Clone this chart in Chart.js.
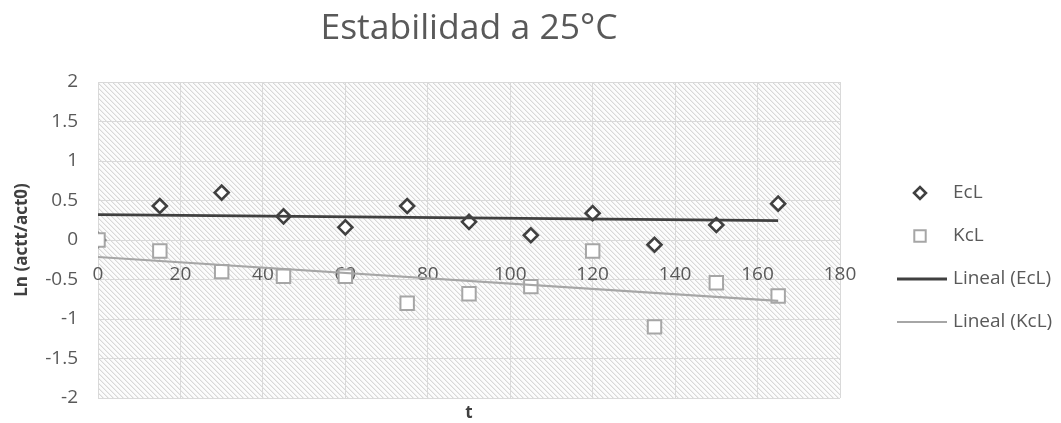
<!DOCTYPE html>
<html lang="es">
<head>
  <meta charset="UTF-8">
  <title>Estabilidad a 25°C</title>
  <style>
    body { margin: 0; background: #ffffff; }
    #wrap { position: relative; width: 1061px; height: 423px; }
  </style>
  <script src="https://cdn.jsdelivr.net/npm/chart.js@4"></script>
</head>
<body>
<div id="wrap"><canvas id="grafico"></canvas></div>

<script>
// datos
const tiempos = [0, 15, 30, 45, 60, 75, 90, 105, 120, 135, 150, 165];
const ecl = [0, 0.43, 0.60, 0.30, 0.16, 0.43, 0.23, 0.06, 0.34, -0.06, 0.19, 0.46];
const kcl = [0, -0.14, -0.40, -0.46, -0.46, -0.80, -0.68, -0.59, -0.14, -1.10, -0.54, -0.71];
// extremos de las líneas de tendencia
const tendT = [0, 165];
const tendEcl = [0.32, 0.245];
const tendKcl = [-0.215, -0.77];
// ejes
const ejeX = { min: 0, max: 180, paso: 20 };
const ejeY = { min: -2, max: 2, paso: 0.5 };

const gris = '#595959';
const fuente = "'Open Sans', sans-serif";

function puntos(xs, ys) {
  return xs.map((x, i) => ({ x: x, y: ys[i] }));
}

// fondo rayado del área de trazado
function patronRayado(ctx) {
  const c = document.createElement('canvas');
  c.width = 5; c.height = 5;
  const p = c.getContext('2d');
  p.fillStyle = '#fcfcfc';
  p.fillRect(0, 0, 5, 5);
  for (let i = 0; i < 5; i++) {
    p.fillStyle = '#d8d8d8';
    p.fillRect(i, i, 1, 1);
    p.fillStyle = '#eeeeee';
    p.fillRect((i + 1) % 5, i, 1, 1);
  }
  return ctx.createPattern(c, 'repeat');
}

const fondoPlugin = {
  id: 'fondo',
  beforeDraw(chart) {
    const a = chart.chartArea, ctx = chart.ctx;
    ctx.save();
    ctx.fillStyle = patronRayado(ctx);
    ctx.fillRect(a.left, a.top, a.right - a.left, a.bottom - a.top);
    ctx.restore();
  }
};

// leyenda a la derecha
const leyendaPlugin = {
  id: 'leyenda',
  afterDraw(chart) {
    const ctx = chart.ctx, a = chart.chartArea;
    const ds = chart.data.datasets;
    const x0 = a.right + 80, xt = a.right + 113;
    let y = 193;
    ctx.save();
    ctx.font = '19px ' + fuente;
    ctx.textBaseline = 'middle';
    ctx.textAlign = 'left';
    ds.forEach(d => {
      if (d.showLine) {
        ctx.strokeStyle = d.borderColor;
        ctx.lineWidth = d.borderWidth;
        ctx.beginPath();
        ctx.moveTo(a.right + 57, y);
        ctx.lineTo(a.right + 107, y);
        ctx.stroke();
      } else {
        ctx.fillStyle = d.pointBackgroundColor;
        ctx.strokeStyle = d.pointBorderColor;
        ctx.lineWidth = d.pointBorderWidth;
        Chart.helpers.drawPoint(ctx, {
          pointStyle: d.pointStyle, radius: d.pointRadius * 0.85,
          borderWidth: d.pointBorderWidth, rotation: 0
        }, x0, y);
      }
      ctx.fillStyle = gris;
      ctx.fillText(d.label, xt, y);
      y += 43;
    });
    ctx.restore();
  }
};

new Chart(document.getElementById('grafico'), {
  type: 'scatter',
  data: {
    datasets: [
      {
        label: 'EcL', data: puntos(tiempos, ecl), order: 3,
        pointStyle: 'rectRot', pointRadius: 7, pointBorderWidth: 2.6,
        pointBorderColor: '#404040', pointBackgroundColor: '#ffffff'
      },
      {
        label: 'KcL', data: puntos(tiempos, kcl), order: 2,
        pointStyle: 'rect', pointRadius: 9.5, pointBorderWidth: 2,
        pointBorderColor: '#a6a6a6', pointBackgroundColor: '#ffffff'
      },
      {
        label: 'Lineal (EcL)', data: puntos(tendT, tendEcl), order: 1,
        showLine: true, pointRadius: 0, borderColor: '#404040', borderWidth: 2.8
      },
      {
        label: 'Lineal (KcL)', data: puntos(tendT, tendKcl), order: 0,
        showLine: true, pointRadius: 0, borderColor: '#a6a6a6', borderWidth: 2.2
      }
    ]
  },
  options: {
    responsive: true,
    maintainAspectRatio: false,
    animation: false,
    layout: { padding: { left: 0, right: 221, top: 0, bottom: 0 } },
    plugins: {
      legend: { display: false },
      tooltip: { enabled: false },
      title: {
        display: true,
        text: 'Estabilidad a 25°C',
        fullSize: false,
        color: gris,
        font: { family: fuente, size: 35.5, weight: 'normal' },
        padding: { top: 8, bottom: 31.4 }
      }
    },
    scales: {
      x: {
        type: 'linear',
        position: { y: 0 },
        min: ejeX.min, max: ejeX.max,
        ticks: {
          stepSize: ejeX.paso, padding: 23, color: gris,
          font: { family: fuente, size: 19 },
          callback: v => String(v)
        },
        grid: { color: '#d9d9d9', drawTicks: false },
        border: { display: false }
      },
      x2: {
        type: 'linear',
        position: 'bottom',
        min: 0, max: 1,
        ticks: { display: false },
        grid: { display: false, drawTicks: false },
        border: { display: false },
        title: {
          display: true, text: 't', color: '#404040',
          font: { family: fuente, size: 17, weight: 'bold' },
          padding: { top: 0, bottom: 0 }
        },
        afterFit(s) { s.height = 25; }
      },
      y: {
        type: 'linear',
        min: ejeY.min, max: ejeY.max,
        ticks: {
          stepSize: ejeY.paso, padding: 20, color: gris,
          font: { family: fuente, size: 19 },
          callback: v => String(v)
        },
        grid: { color: '#d9d9d9', drawTicks: false },
        border: { display: false },
        title: {
          display: true, text: 'Ln (actt/act0)', color: '#404040',
          font: { family: fuente, size: 17, weight: 'bold' },
          padding: { top: 12, bottom: 0 }
        },
        afterFit(s) {
          s.width = 98;
          // sin esto el relleno de las etiquetas recorta el área por abajo
          s.paddingTop = 0;
          s.paddingBottom = 0;
        }
      }
    }
  },
  plugins: [fondoPlugin, leyendaPlugin]
});
</script>
</body>
</html>
